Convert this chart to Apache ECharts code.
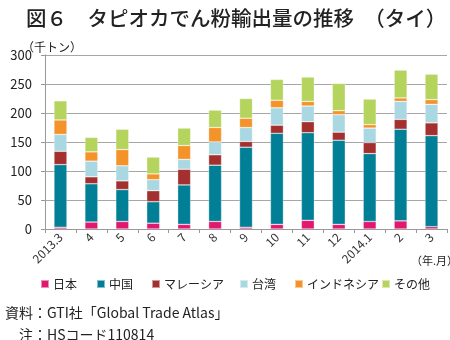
<!DOCTYPE html>
<html><head><meta charset="utf-8">
<script src="https://cdn.jsdelivr.net/npm/echarts@6/dist/echarts.min.js"></script>
<style>html,body{margin:0;padding:0;background:#fff}#c{width:450px;height:340px}</style>
</head><body><div id="c"></div>
<script>
const categories = ['2013.3','4','5','6','7','8','9','10','11','12','2014.1','2','3'];
const seriesNames = ['日本','中国','マレーシア','台湾','インドネシア','その他'];
const japan     = [3, 12, 13, 10, 8, 13, 3, 8, 15, 8, 13, 14, 4];
const china     = [108, 66, 55, 37, 68, 97, 138, 157, 151, 145, 117, 158, 157];
const malaysia  = [23, 12, 15, 19, 27, 18, 10, 14, 19, 14, 19, 17, 22];
const taiwan    = [29, 27, 26, 19, 17, 22, 24, 30, 27, 30, 25, 31, 32];
const indonesia = [25, 16, 28, 10, 24, 25, 16, 13, 8, 7, 6, 6, 8];
const others    = [33, 25, 35, 29, 30, 30, 34, 36, 42, 47, 44, 48, 44];
const yTicks = [0, 50, 100, 150, 200, 250, 300];

const colors = ['#E1196E','#007F97','#A3302E','#A9D8E3','#F3932A','#B4D45D'];
const values = [japan, china, malaysia, taiwan, indonesia, others];
const legendLeft = [40, 96, 151, 239, 294, 381];
const font = '"Noto Sans CJK JP","Noto Sans",sans-serif';

const chart = echarts.init(document.getElementById('c'));
chart.setOption({
  animation: false,
  textStyle: {fontFamily: font},
  title: [
    {text: '図６　タピオカでん粉輸出量の推移　（タイ）', left: 21, top: 3,
     textStyle: {fontSize: 20.5, fontWeight: 500, color: '#222', fontFamily: font}},
    {text: '（千トン）', left: 17, top: 36, textStyle: {fontSize: 12, fontWeight: 'normal', color: '#222'}},
    {text: '資料：GTI社「Global Trade Atlas」', left: 0, top: 301, textStyle: {fontSize: 14, fontWeight: 'normal', color: '#222'}},
    {text: '注：HSコード110814', left: 14, top: 323, textStyle: {fontSize: 14, fontWeight: 'normal', color: '#222'}}
  ],
  graphic: [
    {type: 'text', left: 411, top: 255, style: {text: '（年.月）', fontSize: 11, fill: '#222', fontFamily: font}}
  ],
  legend: seriesNames.map((n, i) => ({
    data: [n], left: legendLeft[i], top: 278, icon: 'rect', itemWidth: 8, itemHeight: 8, itemGap: 5,
    textStyle: {fontSize: 12, color: '#222', padding: [0,0,0,-1]}, padding: 0
  })),
  grid: {left: 45, right: 3, top: 55, bottom: 111},
  xAxis: {
    type: 'category', data: categories,
    axisLine: {lineStyle: {color: '#999'}},
    axisTick: {show: true, length: 4, lineStyle: {color: '#999'}},
    axisLabel: {rotate: 45, fontSize: 12, color: '#333', margin: 6}
  },
  yAxis: {
    type: 'value', min: yTicks[0], max: yTicks[yTicks.length-1], interval: 50,
    axisLine: {show: true, lineStyle: {color: '#999'}},
    axisTick: {show: true, length: 4, inside: false, lineStyle: {color: '#999'}},
    axisLabel: {fontSize: 13, color: '#222', margin: 13},
    splitLine: {lineStyle: {color: '#A6A6A6', width: 1}}
  },
  series: seriesNames.map((n, i) => ({
    name: n, type: 'bar', stack: 'a', data: values[i], barWidth: 13,
    itemStyle: {color: colors[i], borderColor: 'rgba(255,255,255,0.5)', borderWidth: 0.6}
  }))
});
</script></body></html>
